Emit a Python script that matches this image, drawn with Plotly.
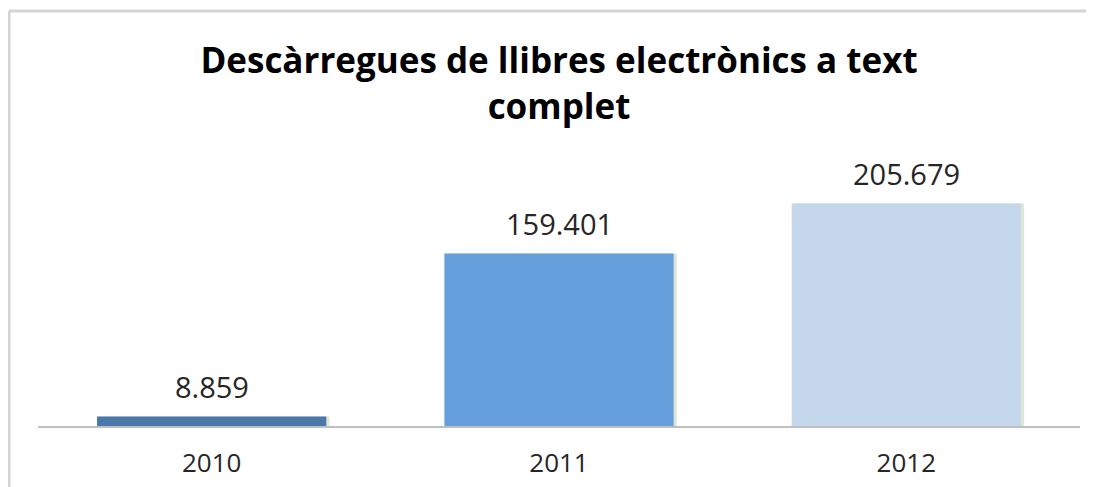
import plotly.graph_objects as go

years = ["2010", "2011", "2012"]
downloads = [8859, 159401, 205679]
labels = ["8.859", "159.401", "205.679"]
colors = ["#4a78ab", "#65a0dc", "#c5d8eb"]

title = "Descàrregues de llibres electrònics a text<br>complet"
FONT = "'Open Sans', Lato, 'Noto Sans', sans-serif"

fig = go.Figure()

# subtle shadow behind bars
fig.add_trace(go.Bar(
    x=years, y=downloads, width=0.66, offset=-0.33 + 0.009,
    marker=dict(color="rgba(150,170,120,0.30)", line=dict(width=0)),
    hoverinfo="skip", showlegend=False,
))

fig.add_trace(go.Bar(
    x=years, y=downloads, width=0.66, offset=-0.33,
    marker=dict(color=colors, line=dict(width=0)),
    showlegend=False,
))

# value labels above the bars (category index positions)
for i, (val, lab) in enumerate(zip(downloads, labels)):
    fig.add_annotation(
        x=i, y=val, xref="x", yref="y", text=lab, showarrow=False,
        xanchor="center", yanchor="middle", yshift=30,
        font=dict(family=FONT, size=29, color="#262626"),
    )

fig.update_layout(
    width=1094, height=487,
    barmode="overlay",
    paper_bgcolor="white", plot_bgcolor="white",
    margin=dict(l=30, r=22, t=180, b=69),
    title=dict(
        text=title, x=0.5, xref="paper", xanchor="center",
        y=0.866, yref="container", yanchor="middle",
        font=dict(family=FONT, size=35, color="#000000", weight="bold"),
    ),
    xaxis=dict(
        type="category", range=[-0.5, 2.5],
        showline=True, linecolor="#bfbfbf", linewidth=2, ticks="",
        tickfont=dict(family=FONT, size=26, color="#262626"),
        ticklabelstandoff=13,
        showgrid=False, zeroline=False,
    ),
    yaxis=dict(
        range=[0, 220000], visible=False, showgrid=False, zeroline=False,
    ),
    shapes=[
        dict(type="line", xref="paper", yref="paper",
             x0=-0.0278, x1=1.05, y0=1.744, y1=1.744,
             line=dict(color="#d4d4d4", width=3), layer="below"),
        dict(type="line", xref="paper", yref="paper",
             x0=-0.0278, x1=-0.0278, y0=-0.6, y1=1.744,
             line=dict(color="#d4d4d4", width=3), layer="below"),
    ],
)

fig.write_html("out.html")
